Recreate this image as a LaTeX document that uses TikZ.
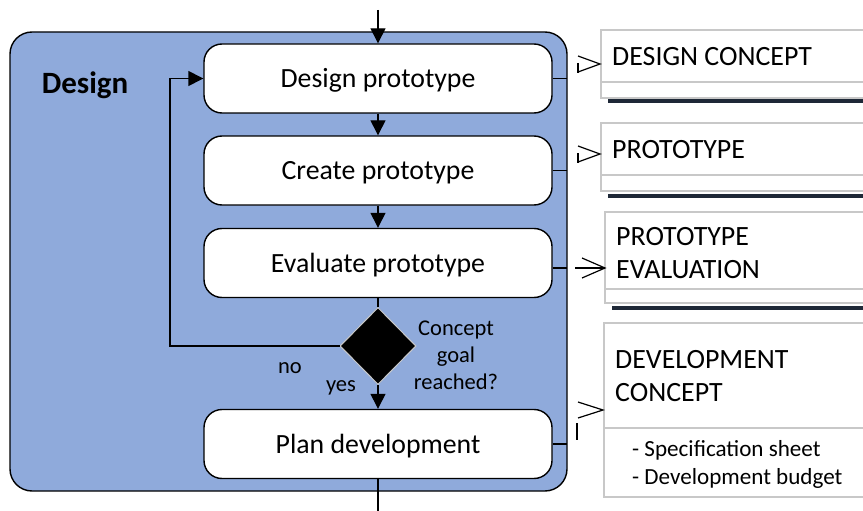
\documentclass[tikz,border=0pt]{standalone}
\usepackage{fontspec}
\setmainfont{Carlito}
\usetikzlibrary{arrows.meta,shapes.geometric}
\definecolor{contblue}{RGB}{143,170,219}
\definecolor{docgray}{RGB}{200,200,200}
\definecolor{bardark}{RGB}{30,40,55}
\tikzset{
  procbox/.style={draw=black,line width=1.4pt,fill=white,rounded corners=18pt,minimum width=348pt,minimum height=69pt,inner sep=0pt,font=\fontsize{27.8}{32}\selectfont,text height=18pt,text depth=0pt},
  flow/.style={line width=1.4pt,-{Triangle[length=15pt,width=15pt]}},
  plain/.style={line width=1.4pt},
  docbox/.style={draw=docgray,line width=1.2pt,fill=white},
  doctext/.style={anchor=west,inner sep=0pt,align=left,font=\fontsize{27.9}{33}\selectfont},
  itemtext/.style={anchor=west,inner sep=0pt,align=left,font=\fontsize{23.1}{28}\selectfont},
  lbl/.style={inner sep=0pt,font=\fontsize{22.5}{27}\selectfont,align=center},
  opentip/.style={line width=1.2pt},
}
\begin{document}
\begin{tikzpicture}[x=1pt,y=-1pt]
\useasboundingbox (0,0) rectangle (863,511);
% container
\draw[line width=1.4pt,fill=contblue,rounded corners=22pt] (10,32) rectangle (567,491);
\node[font=\fontsize{31}{34}\selectfont\bfseries,inner sep=0pt] (title) at (85,85) {Design};
% process boxes
\node[procbox] (b1) at (378,78.5) {Design prototype};
\node[procbox] (b2) at (378,170.5) {Create prototype};
\node[procbox] (b3) at (378,263) {Evaluate prototype};
\node[procbox] (b4) at (378,444) {Plan development};
\node[diamond,fill=black,draw=docgray,line width=1pt,minimum width=76pt,minimum height=77pt,inner sep=0pt] (dec) at (378,346) {};
% flow
\coordinate (topin) at (378,10);
\coordinate (botout) at (378,511);
\draw[flow] (topin) -- (b1.north);
\draw[flow] (b1.south) -- (b2.north);
\draw[flow] (b2.south) -- (b3.north);
\draw[plain] (b3.south) -- (dec.north);
\draw[flow] (dec.south) -- (b4.north);
\draw[plain] (b4.south) -- (botout);
\coordinate (loopc) at (170,346);
\draw[flow] (dec.west) -- (loopc) |- (b1.west);
% labels
\node[lbl] (q) at (456,355) {Concept\\goal\\reached?};
\node[lbl] (no) at (290,368) {no};
\node[lbl] (yes) at (341,388) {yes};
% documents
\draw[bardark,line width=4pt] (608,101.5) -- (870,101.5);
\draw[docbox] (601,30) rectangle (875,98);
\draw[docgray,line width=1.2pt] (601,82) -- (875,82);
\node[doctext] (d1) at (612,57) {DESIGN CONCEPT};

\draw[bardark,line width=4pt] (608,195.5) -- (870,195.5);
\draw[docbox] (601,123) rectangle (875,191);
\draw[docgray,line width=1.2pt] (601,175) -- (875,175);
\node[doctext] (d2) at (612,150) {PROTOTYPE};

\draw[bardark,line width=4pt] (612,307.5) -- (870,307.5);
\draw[docbox] (605,212) rectangle (875,303);
\draw[docgray,line width=1.2pt] (605,289) -- (875,289);
\node[doctext] (d3) at (616,253.5) {PROTOTYPE\\EVALUATION};

\draw[docbox] (604,323) rectangle (875,497);
\draw[docgray,line width=1.2pt] (604,428) -- (875,428);
\node[doctext] (d4) at (615,376.5) {DEVELOPMENT\\CONCEPT};
\node[itemtext] (i4) at (632,464) {- Specification sheet\\- Development budget};
% output connectors
\coordinate (e1) at (567,78.5);
\coordinate (e2) at (567,170.5);
\coordinate (e3) at (575,268);
\coordinate (e4) at (567,444);
\draw[plain] (b1.east) -- (e1);
\draw[plain] (b2.east) -- (e2);
\draw[plain] (b3.east |- e3) -- (567,268);
\draw[plain] (b4.east) -- (e4);
% open arrow tips
\coordinate (t1) at (600,64);
\draw[opentip] (578,56) -- (t1) -- (578,72);
\draw[opentip] (578,63) -- (578,73);
\coordinate (t2) at (600,154);
\draw[opentip] (578,146) -- (t2) -- (578,162);
\draw[opentip] (578,153) -- (578,163);
\coordinate (t3) at (605,268);
\draw[opentip] (e3) -- (t3);
\draw[opentip] (582,258) -- (t3) -- (582,278);
\coordinate (t4) at (603,410);
\draw[opentip] (578,402) -- (t4) -- (578,418);
\draw[opentip] (577,423) -- (577,440);
\end{tikzpicture}
\end{document}
